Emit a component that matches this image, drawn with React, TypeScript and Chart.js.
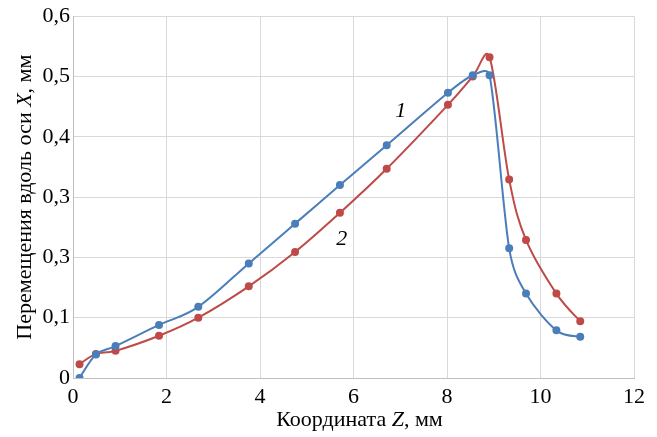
import React, { useEffect, useRef } from "react";
import { Chart, registerables } from "chart.js";

Chart.register(...registerables);

// Data
const zCoord = [0.14, 0.49, 0.91, 1.84, 2.68, 3.76, 4.75, 5.71, 6.71, 8.02, 8.55, 8.91, 9.33, 9.69, 10.34, 10.85];
const dispCurve1 = [0.0, 0.039, 0.053, 0.088, 0.118, 0.19, 0.256, 0.32, 0.386, 0.473, 0.502, 0.502, 0.215, 0.14, 0.079, 0.0685];
const dispCurve2 = [0.023, 0.04, 0.045, 0.07, 0.1, 0.152, 0.209, 0.274, 0.347, 0.453, 0.5, 0.532, 0.329, 0.229, 0.14, 0.094];

const xTickValues = [0, 2, 4, 6, 8, 10, 12];
const yTickLabels = ["0", "0,1", "0,3", "0,3", "0,4", "0,5", "0,6"];

const curveNames = ["1", "2"];
const curveNameZ = [7.01, 5.75];
const curveNameDisp = [0.442, 0.23];

const xTitleParts = ["Координата ", "Z", ", мм"];
const xTitleItalic = [false, true, false];
const yTitleParts = ["Перемещения вдоль оси ", "X", ", мм"];
const yTitleItalic = [false, true, false];

const FONT = "'Liberation Serif', 'Times New Roman', serif";
const BLUE = "#4a7ebb";
const RED = "#be4b48";

// Excel-like smoothing: Catmull-Rom arms (1/6 of chord), capped at half the adjacent segment
function excelSmooth(points: any[]) {
  const n = points.length;
  for (let i = 0; i < n; i++) {
    const p = points[i];
    const prev = points[Math.max(0, i - 1)];
    const next = points[Math.min(n - 1, i + 1)];
    const cx = next.x - prev.x;
    const cy = next.y - prev.y;
    const L = Math.hypot(cx, cy) || 1;
    const ux = cx / L;
    const uy = cy / L;
    const dPrev = Math.hypot(p.x - prev.x, p.y - prev.y);
    const dNext = Math.hypot(next.x - p.x, next.y - p.y);
    const aPrev = Math.min(L / 6, dPrev / 2);
    const aNext = Math.min(L / 6, dNext / 2);
    p.cp1x = p.x - ux * aPrev;
    p.cp1y = p.y - uy * aPrev;
    p.cp2x = p.x + ux * aNext;
    p.cp2y = p.y + uy * aNext;
  }
}

function drawParts(ctx: any, parts: string[], italic: boolean[], size: number) {
  const fonts = italic.map((it) => `${it ? "italic " : ""}${size}px ${FONT}`);
  const widths = parts.map((t, i) => {
    ctx.font = fonts[i];
    return ctx.measureText(t).width;
  });
  const total = widths.reduce((a, b) => a + b, 0);
  let x = -total / 2;
  parts.forEach((t, i) => {
    ctx.font = fonts[i];
    ctx.fillText(t, x, 0);
    x += widths[i];
  });
}

export default function App() {
  const ref = useRef<HTMLCanvasElement | null>(null);

  useEffect(() => {
    if (!ref.current) return;
    const smoothPlugin = {
      id: "excelSmooth",
      beforeDatasetDraw(chart: any, args: any) {
        const meta = args.meta;
        const line = meta.dataset;
        if (!line) return;
        line.updateControlPoints(chart.chartArea, meta.iScale && meta.iScale.axis);
        excelSmooth(line.points);
        line._pointsUpdated = true;
        line._path = undefined;
      },
    };
    const textPlugin = {
      id: "texts",
      afterDraw(chart: any) {
        const { ctx, scales, chartArea } = chart;
        ctx.save();
        ctx.fillStyle = "#000";
        ctx.textAlign = "left";
        ctx.textBaseline = "middle";
        ctx.font = `italic 22px ${FONT}`;
        ctx.textAlign = "center";
        curveNames.forEach((t, i) => {
          ctx.fillText(t, scales.x.getPixelForValue(curveNameZ[i]), scales.y.getPixelForValue(curveNameDisp[i]));
        });
        ctx.textAlign = "left";
        // x title
        ctx.save();
        ctx.translate((chartArea.left + chartArea.right) / 2 + 6, chart.height - 17);
        drawParts(ctx, xTitleParts, xTitleItalic, 22);
        ctx.restore();
        // y title
        ctx.save();
        ctx.translate(25, (chartArea.top + chartArea.bottom) / 2);
        ctx.rotate(-Math.PI / 2);
        drawParts(ctx, yTitleParts, yTitleItalic, 22);
        ctx.restore();
        ctx.restore();
      },
    };

    const chart = new Chart(ref.current, {
      type: "scatter",
      data: {
        datasets: [
          {
            label: "1",
            data: zCoord.map((z, i) => ({ x: z, y: dispCurve1[i] })),
            showLine: true,
            borderColor: BLUE,
            backgroundColor: BLUE,
            borderWidth: 2,
            pointRadius: 3,
            tension: 0.4,
          },
          {
            label: "2",
            data: zCoord.map((z, i) => ({ x: z, y: dispCurve2[i] })),
            showLine: true,
            borderColor: RED,
            backgroundColor: RED,
            borderWidth: 2,
            pointRadius: 3,
            tension: 0.4,
          },
        ],
      },
      options: {
        responsive: false,
        animation: false,
        layout: { padding: { top: 10, right: 23, left: 0, bottom: 0 } },
        plugins: { legend: { display: false }, tooltip: { enabled: false } },
        scales: {
          x: {
            type: "linear",
            min: 0,
            max: 12,
            afterFit: (s: any) => { s.height = 59; },
            afterBuildTicks: (s: any) => { s.ticks = xTickValues.map((v) => ({ value: v })); },
            grid: { color: "#d9d9d9", drawTicks: false },
            border: { color: "#bfbfbf" },
            ticks: { color: "#000", font: { family: FONT, size: 22 }, padding: 6 },
          },
          y: {
            type: "linear",
            min: 0,
            max: 0.6,
            afterFit: (s: any) => { s.width = 73; },
            ticks: {
              stepSize: 0.1,
              color: "#000",
              font: { family: FONT, size: 22 },
              padding: 3,
              callback: (v: any) => yTickLabels[Math.round(Number(v) * 10)] ?? "",
            },
            grid: { color: "#d9d9d9", drawTicks: false },
            border: { color: "#bfbfbf" },
          },
        },
      },
      plugins: [smoothPlugin, textPlugin],
    } as any);
    return () => chart.destroy();
  }, []);

  return (
    <div style={{ position: "absolute", left: 0, top: 0, width: 657, height: 437, background: "#fff" }}>
      <canvas ref={ref} width={657} height={437} />
    </div>
  );
}
